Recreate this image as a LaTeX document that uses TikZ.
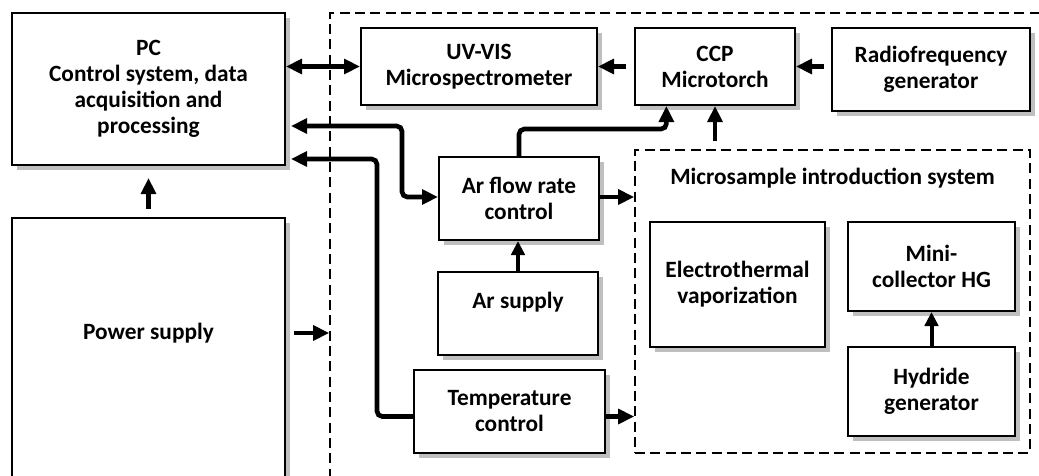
\documentclass[tikz,border=0pt]{standalone}
\usepackage{fontspec}
\setmainfont{Carlito}
\usetikzlibrary{arrows.meta,shadows,calc}
\begin{document}
\begin{tikzpicture}[x=0.75pt,y=-0.75pt,
  txt/.style={align=center, inner sep=0pt, font=\fontsize{17.5}{19.5}\selectfont\bfseries},
  box/.style={txt, draw, line width=1.5pt, fill=white,
    drop shadow={shadow xshift=3.5pt, shadow yshift=-3.5pt, fill=black!25, opacity=1}},
  dbox/.style={draw, line width=1.2pt, dash pattern=on 7.5pt off 4pt, inner sep=0pt},
  arr/.style={line width=3.5pt, -{Triangle[length=12pt,width=11pt]}},
  arrtwo/.style={line width=3.5pt, {Triangle[length=12pt,width=11pt]}-{Triangle[length=12pt,width=11pt]}},
  arrs/.style={line width=3pt, -{Triangle[length=10.5pt,width=10pt]}}]
\useasboundingbox (0,0) rectangle (1039,475);
\clip (0,0) rectangle (1039,475);
\fill[white] (0,0) rectangle (1039,475);

% outer dashed region
\node[dbox, minimum width=555pt, minimum height=365.25pt] (outer) at (700,256.5) {};

% boxes
\node[box, minimum width=204.75pt, minimum height=114pt] (PC) at (148.5,89)
  {PC\\Control system, data\\acquisition and\\processing};
\node[box, minimum width=204.75pt, minimum height=226.5pt] (Power) at (148.5,369) {};
\node[txt] (pstext) at (148.5,333) {Power supply};

\node[box, minimum width=177pt, minimum height=57.75pt] (UV) at (479,66.5)
  {UV-VIS\\Microspectrometer};
\node[box, minimum width=120pt, minimum height=57.75pt] (CCP) at (715,66.5)
  {CCP\\Microtorch};
\node[box, minimum width=148.5pt, minimum height=62.25pt] (RF) at (931,69.5)
  {Radiofrequency\\generator};
\node[box, minimum width=120pt, minimum height=62.25pt] (ArFlow) at (519,198.5)
  {Ar flow rate\\control};
\node[box, minimum width=120pt, minimum height=62.25pt] (ArSupply) at (518,313.5)
  {Ar supply\\\mbox{}};
\node[box, minimum width=143.25pt, minimum height=62.25pt] (Temp) at (509.5,411.5)
  {Temperature\\control};

% microsample introduction system
\node[dbox, minimum width=296.25pt, minimum height=227.25pt] (micro) at (832.5,301.5) {};
\node[txt] (microtitle) at (832.5,178) {Microsample introduction system};
\node[box, minimum width=131.25pt, minimum height=93.75pt] (ETV) at (737.5,284.5)
  {Electrothermal\\vaporization};
\node[box, minimum width=125.25pt, minimum height=66.75pt] (Mini) at (931.5,266.5)
  {Mini-\\collector HG};
\node[box, minimum width=125.25pt, minimum height=66.75pt] (Hyd) at (931.5,391.5)
  {Hydride\\generator};

% helper coordinates
\coordinate (ccpin) at ($(CCP.south west)!0.2!(CCP.south east)$);
\coordinate (pcA) at ($(PC.south east)+(5,-40)$);
\coordinate (pcB) at ($(PC.south east)+(5,-7)$);
\coordinate (tW) at ($(Temp.west)+(0,5)$);
\coordinate (tE) at ($(Temp.east)+(0,5)$);

% connectors
\draw[arrtwo] (PC.east |- UV.west) -- (UV.west);
\draw[arr, shorten <=5.5pt] (RF.west |- CCP.east) -- (CCP.east);
\draw[arr, shorten <=6pt] (CCP.west) -- (UV.east);
\draw[arr, rounded corners=4pt] (ArFlow.north) -- ++(0,-27) -| (ccpin);
\draw[arr, shorten <=6pt] (CCP.south |- micro.north) -- (CCP.south);
\draw[arrtwo, rounded corners=4pt] (pcA) -| ($(ArFlow.west)+(-36,-1.5)$) -- ($(ArFlow.west)+(0,-1.5)$);
\draw[arr, rounded corners=4pt] (tW) -- ++(-36,0) |- (pcB);
\draw[arr] ($(ArFlow.east)+(0,-1.5)$) -- ($(ArFlow.east -| micro.west)+(0,-1.5)$);
\draw[arr] (tE) -- (tE -| micro.west);
\draw[arrs] (ArSupply.north) -- (ArSupply.north |- ArFlow.south);
\draw[arrs] (Hyd.north) -- (Mini.south);
\draw[arr, shorten <=6pt, shorten >=9pt] (Power.north) -- (PC.south);
\draw[arr, shorten <=6pt] (pstext -| Power.east) -- (pstext -| outer.west);
\end{tikzpicture}
\end{document}
